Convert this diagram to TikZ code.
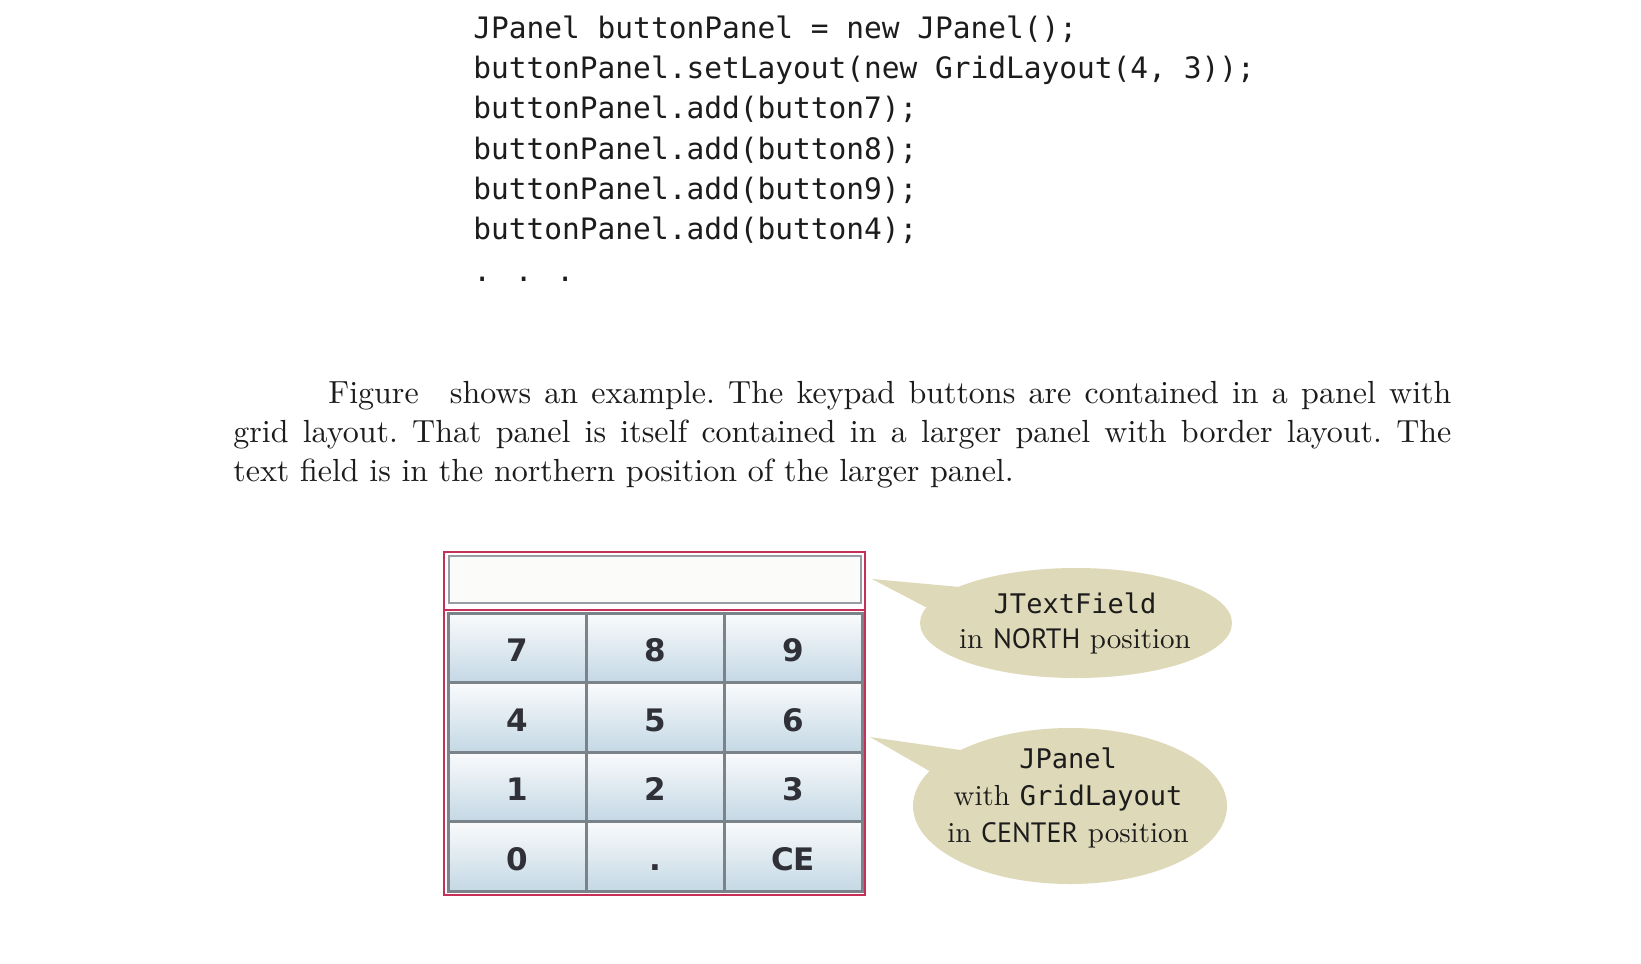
\documentclass[tikz,border=0pt]{standalone}
\usepackage{fontspec}
\setmainfont{lmroman10-regular}[Extension=.otf]
\newfontfamily\codefont{DejaVu Sans Mono}
\newfontfamily\capfont{PT Sans}
\newfontfamily\keyfont{DejaVu Sans}
\usetikzlibrary{shapes.geometric}
\definecolor{panelred}{RGB}{198,48,88}
\definecolor{bubble}{RGB}{222,217,184}
\definecolor{btnedge}{RGB}{122,131,138}
\definecolor{btntop}{RGB}{250,251,252}
\definecolor{btnmid}{RGB}{224,234,241}
\definecolor{btnbot}{RGB}{196,216,229}
\definecolor{ink}{RGB}{28,28,28}
\definecolor{keyink}{RGB}{48,48,56}
\definecolor{fieldedge}{RGB}{150,158,163}
\newcommand\bubmono[1]{{\codefont\fontsize{13.5pt}{16pt}\selectfont #1}}
\newcommand\bubcap[1]{{\capfont\fontsize{14pt}{16pt}\selectfont #1}}
\begin{document}
\begin{tikzpicture}[x=0.5pt,y=-0.5pt,
  code/.style={anchor=base west,inner sep=0,text=ink,
    font=\codefont\fontsize{14.75pt}{17pt}\selectfont},
  keybtn/.style={draw=btnedge,line width=1.5pt,minimum width=69pt,
    minimum height=34.75pt,inner sep=0,text height=14pt,text depth=0pt,
    top color=btntop,middle color=btnmid,bottom color=btnbot,text=keyink,
    font=\keyfont\bfseries\fontsize{15.5pt}{18pt}\selectfont},
  bubbleshape/.style={ellipse,fill=bubble,inner sep=0},
  bubtext/.style={anchor=base,inner sep=0,text=ink,
    font=\fontsize{14.5pt}{17pt}\selectfont},
  bubcode/.style={bubtext,font=\codefont\fontsize{13.5pt}{16pt}\selectfont}]
\fill[white] (0,0) rectangle (1641,963);
\useasboundingbox (0,0) rectangle (1641,963);

% code listing
\node[code] (c1) at (473,39) {JPanel buttonPanel = new JPanel();};
\node[code] (c2) at (473,79) {buttonPanel.setLayout(new GridLayout(4, 3));};
\node[code] (c3) at (473,119) {buttonPanel.add(button7);};
\node[code] (c4) at (473,159) {buttonPanel.add(button8);};
\node[code] (c5) at (473,199) {buttonPanel.add(button9);};
\node[code] (c6) at (473,239) {buttonPanel.add(button4);};
\node[code] (c7) at (473,281) {. . .};

% paragraph
\node[anchor=base west,inner sep=0,text=ink] (para) at (233,403) {\parbox[t]{609pt}{\fontsize{16pt}{19.5pt}\selectfont\frenchspacing
\makebox[609pt][s]{\hspace*{47.5pt}Figure\hspace{9pt} shows an example. The keypad buttons are contained in a panel with}\\
\makebox[609pt][s]{grid layout. That panel is itself contained in a larger panel with border layout. The}\\
text field is in the northern position of the larger panel.}};

% keypad frame
\node[draw=panelred,line width=1.2pt,minimum width=210.5pt,minimum height=171.5pt,inner sep=0] (panel) at (654.5,723.5) {};
\node[draw=fieldedge,line width=0.9pt,fill={rgb,255:red,251;green,251;blue,249},minimum width=206pt,minimum height=23.5pt,inner sep=0] (tf) at (655,579.5) {};
\draw[panelred,line width=1.2pt] ([yshift=-3pt]tf.south -| panel.west) -- ([yshift=-3pt]tf.south -| panel.east);

% buttons
\node[keybtn] (k7) at (517,647.75) {7};
\node[keybtn] (k8) at (655,647.75) {8};
\node[keybtn] (k9) at (793,647.75) {9};
\node[keybtn] (k4) at (517,717.25) {4};
\node[keybtn] (k5) at (655,717.25) {5};
\node[keybtn] (k6) at (793,717.25) {6};
\node[keybtn] (k1) at (517,786.75) {1};
\node[keybtn] (k2) at (655,786.75) {2};
\node[keybtn] (k3) at (793,786.75) {3};
\node[keybtn] (k0) at (517,856.25) {0};
\node[keybtn] (kdot) at (655,856.25) {.};
\node[keybtn] (kce) at (793,856.25) {CE};

% callout 1
\node[bubbleshape,minimum width=156pt,minimum height=55pt] (e1) at (1076,623) {};
\coordinate (tip1) at (872,579);
\fill[bubble] (tip1) -- (e1.163) -- (e1.center) -- (e1.174) -- cycle;
\node[bubcode] (t1a) at (1075,613) {JTextField};
\node[bubtext] (t1b) at (1075,648) {in \bubcap{NORTH} position};

% callout 2
\node[bubbleshape,minimum width=157pt,minimum height=78pt] (e2) at (1070,806) {};
\coordinate (tip2) at (870,737);
\fill[bubble] (tip2) -- (e2.153) -- (e2.center) -- (e2.166) -- cycle;
\node[bubcode] (t2a) at (1068,768) {JPanel};
\node[bubtext] (t2b) at (1068,805) {with \bubmono{GridLayout}};
\node[bubtext] (t2c) at (1068,842) {in \bubcap{CENTER} position};
\end{tikzpicture}
\end{document}
